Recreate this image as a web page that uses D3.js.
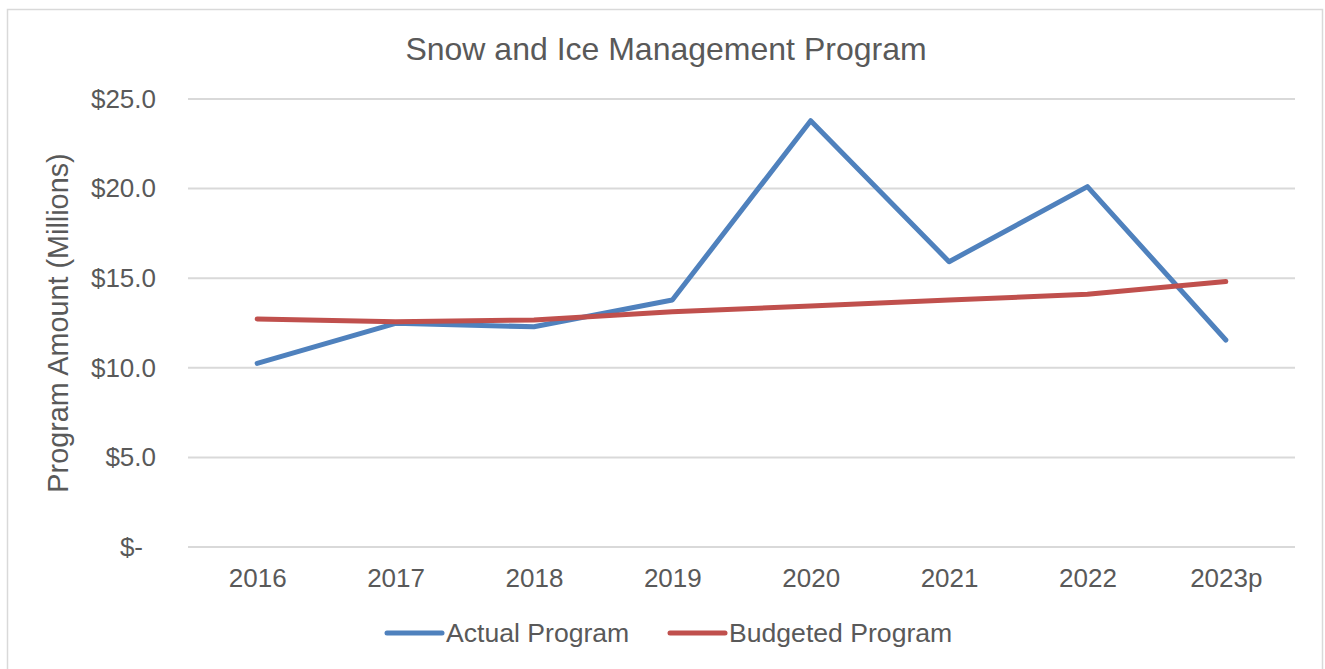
<!DOCTYPE html>
<meta charset="UTF-8">
<html>
<head>
	<title>Snow and Ice Management Program</title>
	<script src="https://d3js.org/d3.v7.min.js"></script>
	<style>
		body { margin: 0; background: #fff; }
		text { font-family: "Liberation Sans", Arial, sans-serif; fill: #595959; }
	</style>
</head>
<body>
	<svg id="chart" width="1325" height="669"></svg>

	<script>
		// Chart data (millions of dollars)
		var years = ["2016", "2017", "2018", "2019", "2020", "2021", "2022", "2023p"];
		var actual = [10.25, 12.48, 12.29, 13.78, 23.79, 15.92, 20.11, 11.55];
		var budgeted = [12.72, 12.57, 12.67, 13.13, 13.45, 13.78, 14.10, 14.81];
		var yTicks = [0, 5, 10, 15, 20, 25];
		var seriesNames = ["Actual Program", "Budgeted Program"];
		var seriesColors = ["#4F81BD", "#C0504D"];

		var svg = d3.select("#chart");

		// Outer chart border
		svg.append("rect")
			.attr("x", 7.5)
			.attr("y", 9.5)
			.attr("width", 1315)
			.attr("height", 680)
			.style("fill", "none")
			.style("stroke", "#D9D9D9")
			.style("stroke-width", 1.5);

		// Scales
		var x = d3.scalePoint()
			.domain(years)
			.range([188, 1295])
			.padding(0.5);
		var y = d3.scaleLinear()
			.domain([0, 25])
			.range([547, 99]);

		// Title
		svg.append("text")
			.attr("x", 666)
			.attr("y", 60)
			.attr("text-anchor", "middle")
			.style("font-size", "32px")
			.text("Snow and Ice Management Program");

		// Gridlines
		svg.selectAll(".grid")
			.data(yTicks)
			.enter()
			.append("line")
				.attr("x1", 188)
				.attr("x2", 1295)
				.attr("y1", function(d){ return y(d); })
				.attr("y2", function(d){ return y(d); })
				.style("stroke", "#D9D9D9")
				.style("stroke-width", 2);

		// Y axis labels
		var yAxis = d3.axisLeft(y)
			.tickValues(yTicks)
			.tickSize(0)
			.tickPadding(32)
			.tickFormat(function(d){ return d === 0 ? "$-" : "$" + d.toFixed(1); });
		var gy = svg.append("g")
			.attr("transform", "translate(188,0)")
			.call(yAxis);
		gy.select(".domain").remove();
		gy.selectAll("text")
			.style("font-size", "26px")
			.style("font-family", "'Liberation Sans', Arial, sans-serif")
			.attr("fill", "#595959");
		// "$-" sits a little left of the number column
		gy.selectAll(".tick text")
			.filter(function(d){ return d === 0; })
			.attr("x", -45);

		// X axis labels
		var xAxis = d3.axisBottom(x)
			.tickSize(0)
			.tickPadding(22);
		var gx = svg.append("g")
			.attr("transform", "translate(0,547)")
			.call(xAxis);
		gx.select(".domain").remove();
		gx.selectAll("text")
			.style("font-size", "26px")
			.style("font-family", "'Liberation Sans', Arial, sans-serif")
			.attr("fill", "#595959");

		// Y axis title
		svg.append("text")
			.attr("transform", "translate(68,323) rotate(-90)")
			.attr("text-anchor", "middle")
			.style("font-size", "28.8px")
			.text("Program Amount (Millions)");

		// Lines
		var line = d3.line()
			.x(function(d, i){ return x(years[i]); })
			.y(function(d){ return y(d); });

		[actual, budgeted].forEach(function(s, i){
			svg.append("path")
				.datum(s)
				.attr("d", line)
				.style("fill", "none")
				.style("stroke", seriesColors[i])
				.style("stroke-width", 5)
				.style("stroke-linecap", "round")
				.style("stroke-linejoin", "round");
		});

		// Legend
		var legendX = [387, 670];
		var legend = svg.selectAll(".legend")
			.data(seriesNames)
			.enter()
			.append("g")
				.attr("transform", function(d, i){ return "translate(" + legendX[i] + ",633)"; });
		legend.append("line")
			.attr("x1", 0)
			.attr("x2", 55)
			.style("stroke", function(d, i){ return seriesColors[i]; })
			.style("stroke-width", 5)
			.style("stroke-linecap", "round");
		legend.append("text")
			.attr("x", 59)
			.attr("y", 9)
			.style("font-size", "26.6px")
			.text(function(d){ return d; });
	</script>
</body>
</html>
